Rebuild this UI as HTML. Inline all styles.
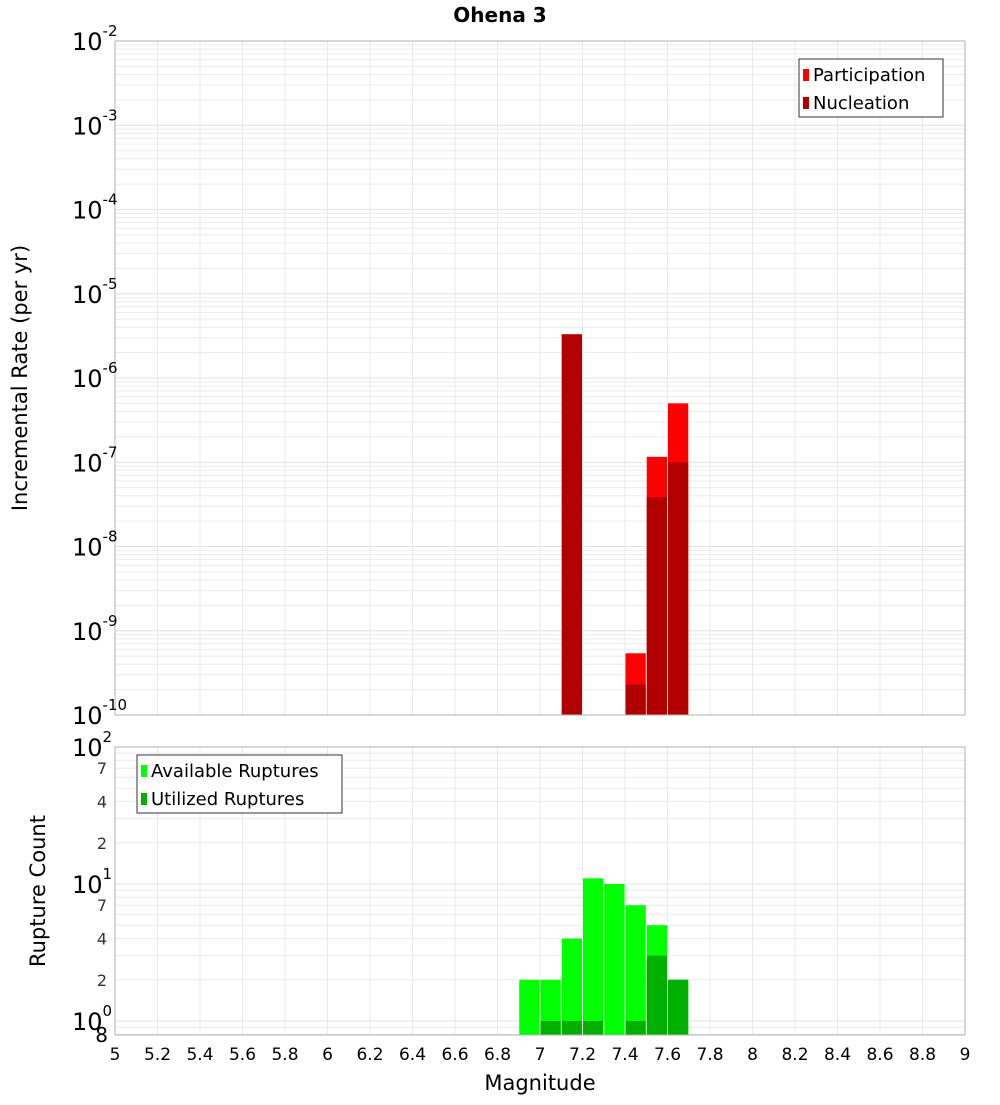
<!DOCTYPE html>
<html><head><meta charset="utf-8"><style>
body{margin:0;background:#fff;}
svg text{font-family:"DejaVu Sans","Liberation Sans",sans-serif;}
</style></head><body>
<svg id="c" width="1000" height="1100" xmlns="http://www.w3.org/2000/svg"></svg>
<script>
const binCenters=[6.95,7.05,7.15,7.25,7.35,7.45,7.55,7.65];
const participation=[0,0,3.3e-6,0,0,5.4e-10,1.16e-7,5.0e-7];
const nucleation=[0,0,3.3e-6,0,0,2.3e-10,3.85e-8,1.0e-7];
const available=[2,2,4,11,10,7,5,2];
const utilized=[0,1,1,1,0,1,3,2];
const xTicks=[5,5.2,5.4,5.6,5.8,6,6.2,6.4,6.6,6.8,7,7.2,7.4,7.6,7.8,8,8.2,8.4,8.6,8.8,9];
const topExps=[-2,-3,-4,-5,-6,-7,-8,-9,-10];
const botMinorLabels=[2,4,7];

const NS="http://www.w3.org/2000/svg";
const svg=document.getElementById('c');
function el(tag,attrs,parent){const e=document.createElementNS(NS,tag);for(const k in attrs)e.setAttribute(k,attrs[k]);(parent||svg).appendChild(e);return e;}
const X0=115,X1=965;
const x=m=>X0+(m-5)/4*(X1-X0);
const T0=41,T1=715;
const yT=v=>T0+(-2-Math.log10(v))/8*(T1-T0);
const B0=747,B1=1035;
const PPD=137;
const yB=v=>B0+(2-Math.log10(v))*PPD;

// title
let t=el('text',{x:500,y:22,'text-anchor':'middle','font-size':20,'font-weight':'bold'});t.textContent='Ohena 3';


function grid(top,bot,yfun,dmin,dmax,lo){
  const g=el('g',{});
  
  for(let d=dmin;d<=dmax;d++)for(let k=1;k<10;k++){const v=k*Math.pow(10,d);if(v<lo)continue;const yy=yfun(v);if(yy<top-0.5||yy>bot+0.5)continue;
    el('line',{x1:X0,x2:X1,y1:yy,y2:yy,stroke:k==1?'#e2e2e2':'#ececec','stroke-width':1},g);}
  xTicks.forEach(m=>el('line',{x1:x(m),x2:x(m),y1:top,y2:bot,stroke:'#e8e8e8'},g));
}
grid(T0,T1,yT,-10,-3,1e-10);
grid(B0,B1,yB,-1,1,0.8);

const bw=(x(5.1)-x(5));
function bar(m,v,yfun,base,fill,name){
  if(!v)return;const yy=yfun(v);
  const r=el('rect',{x:x(m)-bw/2+0.5,y:yy,width:bw-1,height:base-yy,fill:fill});
  
}
binCenters.forEach((m,i)=>{bar(m,participation[i],yT,T1,'#ff0000','participation-bar');bar(m,nucleation[i],yT,T1,'#b20000','nucleation-bar');});
binCenters.forEach((m,i)=>{bar(m,available[i],yB,B1,'#00ff00','available-bar');bar(m,utilized[i],yB,B1,'#00b000','utilized-bar');});

// frames
let f=el('rect',{x:X0,y:T0,width:X1-X0,height:T1-T0,fill:'none',stroke:'#b0b0b0'});
f=el('rect',{x:X0,y:B0,width:X1-X0,height:B1-B0,fill:'none',stroke:'#b0b0b0'});

// top y labels
topExps.forEach(e=>{const yy=yT(Math.pow(10,e));
  const tx=el('text',{x:72,y:yy+9,'font-size':24});
  
  tx.innerHTML='10<tspan dy="-14" font-size="15">'+e+'</tspan>';});
// bottom y labels
[2,1,0].forEach(e=>{const yy=yB(Math.pow(10,e));
  const tx=el('text',{x:72,y:yy+9,'font-size':24});
  
  tx.innerHTML='10<tspan dy="-14" font-size="15">'+e+'</tspan>';});
[1,10].forEach(d=>botMinorLabels.forEach(k=>{const tx=el('text',{x:107,y:yB(k*d)+6,'font-size':16,'text-anchor':'end',fill:'#333'});tx.textContent=k;
  }));
t=el('text',{x:108,y:1042,'font-size':20,'text-anchor':'end'});t.textContent='8';


xTicks.forEach(m=>{const tx=el('text',{x:x(m),y:1060,'font-size':17,'text-anchor':'middle'});tx.textContent=String(m);
  });

t=el('text',{x:540,y:1090,'font-size':21,'text-anchor':'middle'});t.textContent='Magnitude';

t=el('text',{x:0,y:0,'font-size':21,'text-anchor':'middle',transform:'translate(27,378) rotate(-90)'});t.textContent='Incremental Rate (per yr)';

t=el('text',{x:0,y:0,'font-size':21,'text-anchor':'middle',transform:'translate(45,891) rotate(-90)'});t.textContent='Rupture Count';


function legend(lx,ly,w,items,name){
  const g=el('g',{});
  el('rect',{x:lx,y:ly,width:w,height:58,fill:'#fff',stroke:'#333'},g);
  items.forEach((it,i)=>{
    const s=el('rect',{x:lx+4,y:ly+10+i*28,width:6,height:12,fill:it[1]},g);
    
    const tx=el('text',{x:lx+14,y:ly+22+i*28,'font-size':18},g);tx.textContent=it[0];
    
  });
}
legend(799,59,144,[['Participation','#ff0000'],['Nucleation','#b20000']],'top-legend');
legend(137,755,205,[['Available Ruptures','#00ff00'],['Utilized Ruptures','#00b000']],'bottom-legend');
</script>
</body></html>
